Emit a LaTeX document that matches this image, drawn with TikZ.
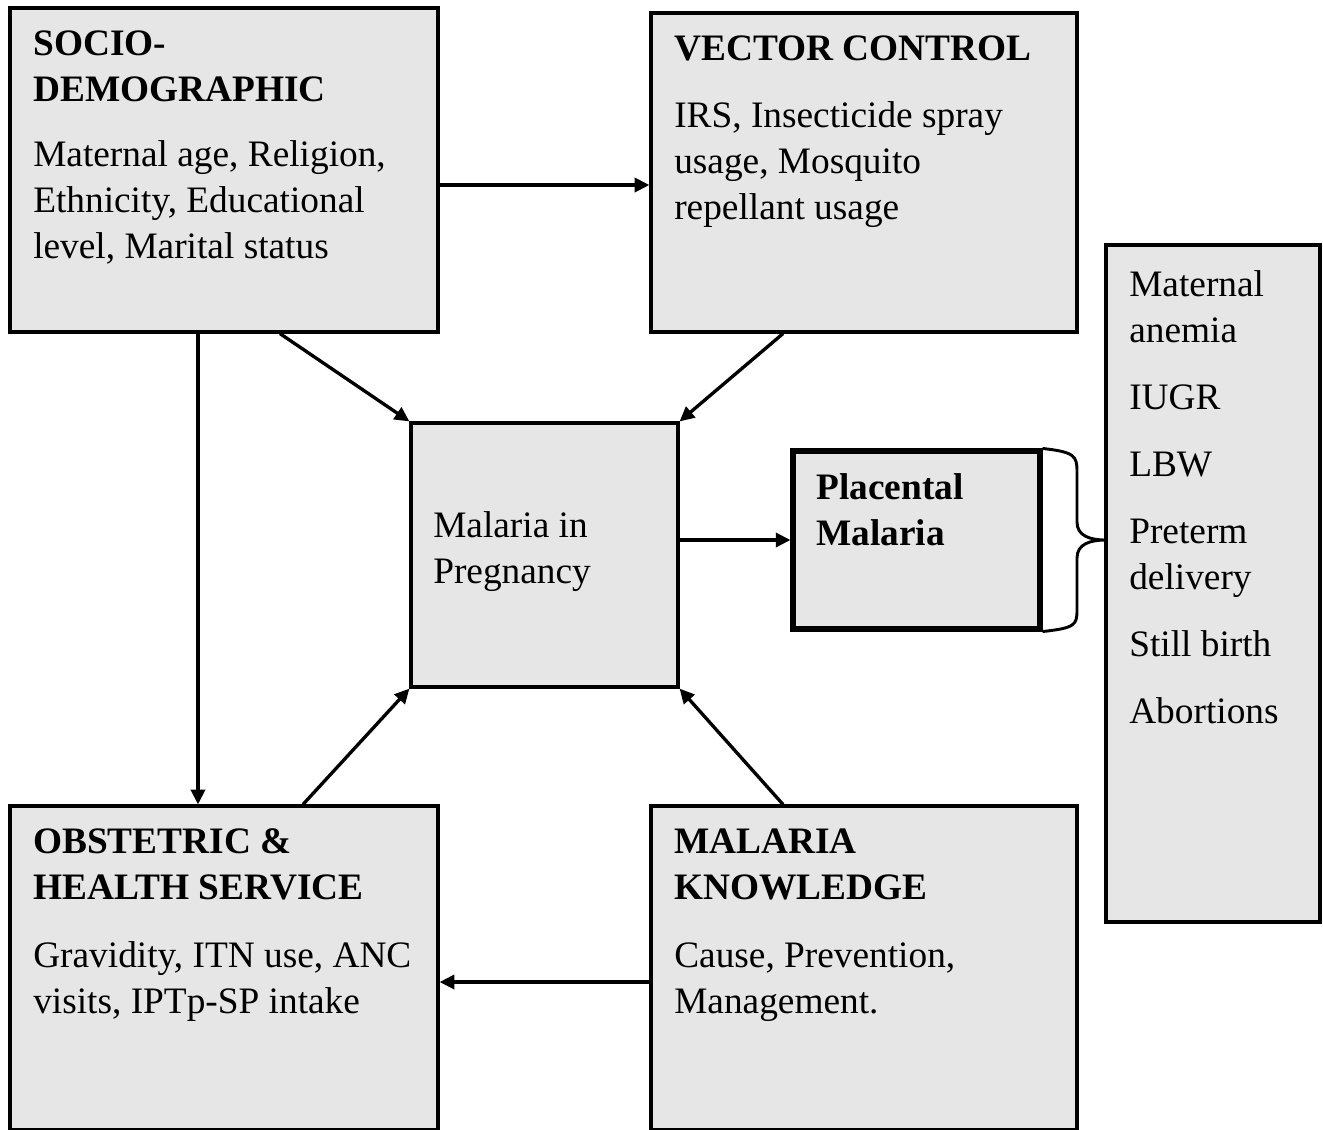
\documentclass[tikz,border=0pt]{standalone}
\usepackage{fontspec}
\setmainfont{Liberation Serif}
\usetikzlibrary{arrows.meta,fit}
\definecolor{boxgray}{RGB}{230,230,230}
\tikzset{
  box/.style={draw=black, fill=boxgray, line width=2.4pt, inner sep=0pt, rectangle},
  thickbox/.style={box, line width=3.8pt},
  txt/.style={inner sep=0pt, align=left, anchor=base west, font=\fontsize{28}{34.5}\selectfont},
  arr/.style={line width=2.5pt, -{Triangle[length=11pt,width=10.5pt]}},
}
\begin{document}
\begin{tikzpicture}[x=0.75pt,y=-0.75pt]
\useasboundingbox (0,0) rectangle (1323,1129);
% boxes
\node[box, fit={(10,8) (438,332)}] (socio) {};
\node[box, fit={(651,13) (1077,332)}] (vector) {};
\node[box, fit={(1106,245) (1320,922)}] (outcome) {};
\node[box, fit={(411,423) (678,687)}] (mip) {};
\node[thickbox, fit={(793,451) (1040,629)}] (plac) {};
\node[box, fit={(10,806) (438,1130)}] (obst) {};
\node[box, fit={(651,806) (1077,1130)}] (know) {};
% texts (anchor = baseline of last line)
\node[txt] (sociohead) at (33,101) {\bfseries SOCIO-\\\bfseries DEMOGRAPHIC};
\node[txt] (sociobody) at (33,258) {Maternal age, Religion,\\Ethnicity, Educational\\level, Marital status};
\node[txt] (vechead) at (674,60) {\bfseries VECTOR CONTROL};
\node[txt] (vecbody) at (674,219) {IRS, Insecticide spray\\usage, Mosquito\\repellant usage};
\node[txt] (mipt) at (433,583) {Malaria in\\Pregnancy};
\node[txt] (plact) at (816,545) {\bfseries Placental\\\bfseries Malaria};
\node[txt] (obsthead) at (33,899) {\bfseries OBSTETRIC \&\\\bfseries HEALTH SERVICE};
\node[txt] (obstbody) at (33,1013) {Gravidity, ITN use, ANC\\visits, IPTp-SP intake};
\node[txt] (knowhead) at (674,899) {\bfseries MALARIA\\\bfseries KNOWLEDGE};
\node[txt] (knowbody) at (674,1013) {Cause, Prevention,\\Management.};
\node[txt] (outt) at (1129,723) {Maternal\\anemia\\[15.75pt]IUGR\\[15.75pt]LBW\\[15.75pt]Preterm\\delivery\\[15.75pt]Still birth\\[15.75pt]Abortions};
% connectors
\draw[arr] (socio.east |- 0,185) -- (vector.west |- 0,185);
\draw[arr] (socio.south -| 198,0) -- (obst.north -| 198,0);
\draw[arr] (socio.south -| 280,0) -- (mip.north west);
\draw[arr] (vector.south -| 783,0) -- (mip.north east);
\draw[arr] (obst.north -| 303,0) -- (mip.south west);
\draw[arr] (know.north -| 783,0) -- (mip.south east);
\draw[arr] (know.west |- 0,982) -- (obst.east |- 0,982);
\draw[arr] (mip.east |- 0,540) -- (plac.west |- 0,540);
% brace
\draw[line width=2.2pt] (plac.north east) .. controls (1075,452) and (1077,456) .. (1077,472)
  -- (1077,522) .. controls (1077,536) and (1090,540) .. (1106,540)
  .. controls (1090,540) and (1077,544) .. (1077,558)
  -- (1077,610) .. controls (1077,625) and (1075,628) .. (plac.south east);
\end{tikzpicture}
\end{document}
